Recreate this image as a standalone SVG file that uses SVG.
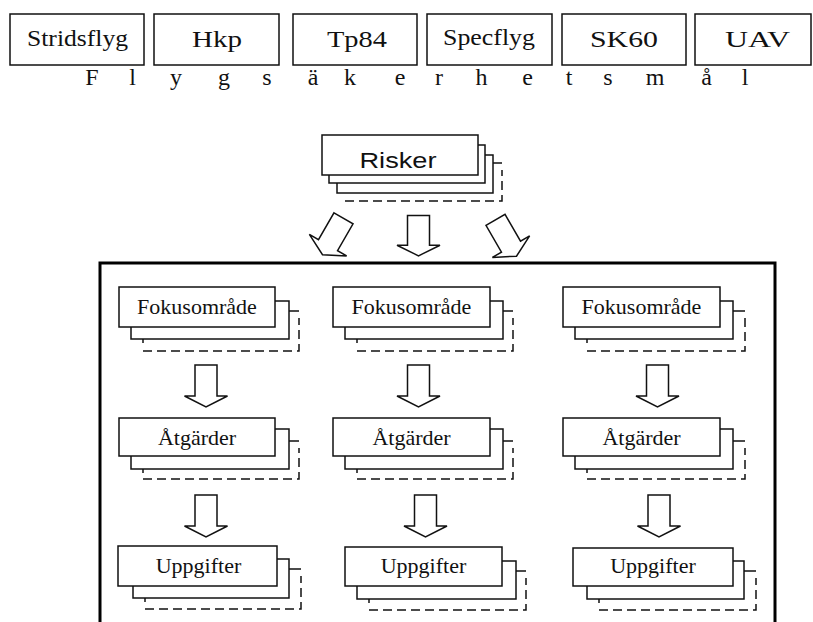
<svg xmlns="http://www.w3.org/2000/svg" xmlns:xlink="http://www.w3.org/1999/xlink" width="813" height="622" viewBox="0 0 813 622">
<style>
.box{fill:#fff;stroke:#111;stroke-width:1.5}
.dash{fill:none;stroke:#111;stroke-width:1.5;stroke-dasharray:9 5}
.tick{fill:none;stroke:#111;stroke-width:1.5}
.arr{fill:#fff;stroke:#111;stroke-width:1.5}
.lbl{font-family:"Liberation Serif","Times New Roman",serif;font-size:22px;fill:#111;text-anchor:middle}
.top{font-size:23px}
.row{font-size:24px}
.sans{font-family:"Liberation Sans",Arial,sans-serif}
.frame{fill:none;stroke:#000;stroke-width:3}
</style>
<defs>
<path id="arr" class="arr" d="M-11,0 H11 V31 H21.5 L0,42 L-21.5,31 H-11 Z"/>
</defs>
<rect width="813" height="622" fill="#fff"/>

<g id="top-boxes">
<g id="stridsflyg"><rect class="box" x="10" y="14" width="134" height="51"/><text class="lbl top" x="77.5" y="46" textLength="101" lengthAdjust="spacingAndGlyphs">Stridsflyg</text></g>
<g id="hkp"><rect class="box" x="154" y="14" width="125" height="51"/><text class="lbl top" x="217" y="47" textLength="50" lengthAdjust="spacingAndGlyphs">Hkp</text></g>
<g id="tp84"><rect class="box" x="293" y="14" width="124" height="51"/><text class="lbl top" x="357" y="47" textLength="60" lengthAdjust="spacingAndGlyphs">Tp84</text></g>
<g id="specflyg"><rect class="box" x="427" y="14" width="125" height="51"/><text class="lbl top" x="489" y="45" textLength="92" lengthAdjust="spacingAndGlyphs">Specflyg</text></g>
<g id="sk60"><rect class="box" x="562" y="14" width="124" height="51"/><text class="lbl top" x="624" y="47" textLength="68" lengthAdjust="spacingAndGlyphs">SK60</text></g>
<g id="uav"><rect class="box" x="695" y="14" width="116" height="51"/><text class="lbl top" x="757.5" y="47" textLength="65" lengthAdjust="spacingAndGlyphs">UAV</text></g>
</g>

<g id="flygsakerhetsmal" class="lbl row">
<text x="92" y="85">F</text><text x="132.5" y="85">l</text><text x="176" y="85">y</text><text x="224" y="85">g</text><text x="267" y="85">s</text><text x="313" y="85">ä</text><text x="350" y="85">k</text><text x="400" y="85">e</text><text x="439" y="85">r</text><text x="481.5" y="85">h</text><text x="527.5" y="85">e</text><text x="569" y="85">t</text><text x="608" y="85">s</text><text x="655" y="85">m</text><text x="706.5" y="85">å</text><text x="745" y="85">l</text>
</g>

<g id="risker">
<path class="dash" d="M345,201 H502 V170"/>
<path class="tick" d="M493,163 H502"/>
<rect class="box" x="337" y="155" width="156" height="38"/>
<rect class="box" x="329" y="145" width="156" height="38"/>
<rect class="box" x="322" y="135" width="156" height="40"/>
<text class="lbl sans" x="398" y="168" textLength="77" lengthAdjust="spacingAndGlyphs">Risker</text>
</g>

<rect id="frame" class="frame" x="100" y="263" width="675" height="380"/>

<g id="fokus1">
<path class="dash" d="M143,351 H299 V318"/><path class="tick" d="M289,311 H299 M143,339 V343"/>
<rect class="box" x="131" y="301" width="158" height="38"/>
<rect class="box" x="119" y="287" width="156" height="40"/>
<text class="lbl" x="197" y="314">Fokusområde</text>
</g>
<g id="fokus2">
<path class="dash" d="M357,351 H513 V318"/><path class="tick" d="M503,311 H513 M357,339 V343"/>
<rect class="box" x="345" y="301" width="158" height="38"/>
<rect class="box" x="333" y="287" width="157" height="40"/>
<text class="lbl" x="411.5" y="314">Fokusområde</text>
</g>
<g id="fokus3">
<path class="dash" d="M587,351 H745 V318"/><path class="tick" d="M733,311 H745 M587,339 V343"/>
<rect class="box" x="575" y="301" width="158" height="38"/>
<rect class="box" x="563" y="287" width="157" height="40"/>
<text class="lbl" x="641.5" y="314">Fokusområde</text>
</g>

<g id="atgarder1">
<path class="dash" d="M143,479 H299 V448"/><path class="tick" d="M289,441 H299 M143,469 V473"/>
<rect class="box" x="131" y="429" width="158" height="40"/>
<rect class="box" x="119" y="418" width="156" height="38"/>
<text class="lbl" x="197" y="445">Åtgärder</text>
</g>
<g id="atgarder2">
<path class="dash" d="M357,479 H513 V448"/><path class="tick" d="M503,441 H513 M357,469 V473"/>
<rect class="box" x="345" y="429" width="158" height="40"/>
<rect class="box" x="333" y="418" width="157" height="38"/>
<text class="lbl" x="411.5" y="445">Åtgärder</text>
</g>
<g id="atgarder3">
<path class="dash" d="M587,479 H745 V448"/><path class="tick" d="M733,441 H745 M587,469 V473"/>
<rect class="box" x="575" y="429" width="158" height="40"/>
<rect class="box" x="563" y="418" width="157" height="38"/>
<text class="lbl" x="641.5" y="445">Åtgärder</text>
</g>

<g id="uppgifter1">
<path class="dash" d="M145,609 H301 V576"/><path class="tick" d="M289,569 H301 M145,598 V602"/>
<rect class="box" x="133" y="559" width="156" height="39"/>
<rect class="box" x="118" y="546" width="159" height="40"/>
<text class="lbl" x="198.5" y="573">Uppgifter</text>
</g>
<g id="uppgifter2">
<path class="dash" d="M369,610 H526 V578"/><path class="tick" d="M516,571 H526 M369,599 V603"/>
<rect class="box" x="357" y="561" width="159" height="38"/>
<rect class="box" x="345" y="547" width="157" height="39"/>
<text class="lbl" x="423.5" y="573">Uppgifter</text>
</g>
<g id="uppgifter3">
<path class="dash" d="M599,610 H756 V578"/><path class="tick" d="M744,571 H756 M599,599 V603"/>
<rect class="box" x="587" y="561" width="157" height="38"/>
<rect class="box" x="573" y="548" width="160" height="38"/>
<text class="lbl" x="653" y="573">Uppgifter</text>
</g>

<g id="connectors">
<use xlink:href="#arr" href="#arr" transform="translate(333,236.5) rotate(30) translate(0,-21)"/>
<use xlink:href="#arr" href="#arr" transform="translate(418.5,215.5) scale(1,0.96)"/>
<use xlink:href="#arr" href="#arr" transform="translate(506,238) rotate(-30) translate(0,-21)"/>
<use xlink:href="#arr" href="#arr" transform="translate(206,365)"/>
<use xlink:href="#arr" href="#arr" transform="translate(418.5,365)"/>
<use xlink:href="#arr" href="#arr" transform="translate(657.5,365)"/>
<use xlink:href="#arr" href="#arr" transform="translate(206,495)"/>
<use xlink:href="#arr" href="#arr" transform="translate(425.5,495)"/>
<use xlink:href="#arr" href="#arr" transform="translate(659,495)"/>
</g>
</svg>
